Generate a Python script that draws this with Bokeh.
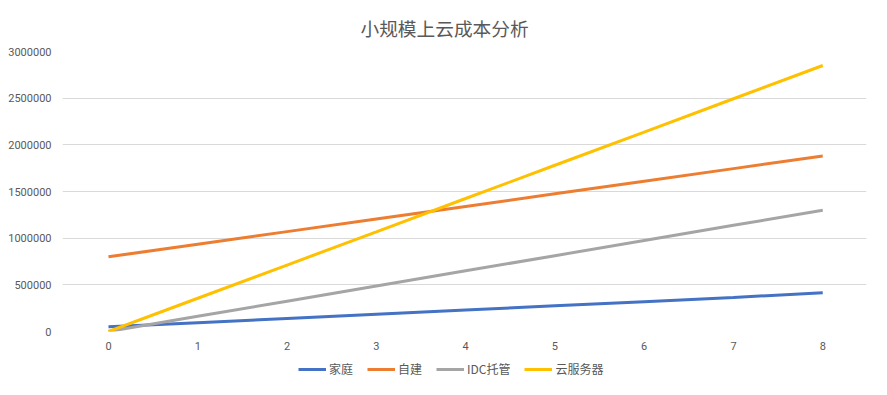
from bokeh.plotting import figure
from bokeh.layouts import column
from bokeh.models import ColumnDataSource, Legend, LegendItem, FixedTicker, Range1d, NumeralTickFormatter
from bokeh.embed import file_html
from bokeh.resources import INLINE

years = [0, 1, 2, 3, 4, 5, 6, 7, 8]
home = [50000, 95000, 140000, 185000, 230000, 275000, 320000, 365000, 415000]
self_built = [800000, 935000, 1070000, 1205000, 1340000, 1475000, 1610000, 1745000, 1880000]
idc = [0, 162500, 325000, 487500, 650000, 812500, 975000, 1137500, 1300000]
cloud = [0, 356000, 712000, 1068000, 1425000, 1781000, 2137000, 2494000, 2850000]

series_names = ["家庭", "自建", "IDC托管", "云服务器"]
series_values = [home, self_built, idc, cloud]
colors = ["#4472C4", "#ED7D31", "#A5A5A5", "#FFC000"]
y_ticks = [0, 500000, 1000000, 1500000, 2000000, 2500000, 3000000]

W = 871
p = figure(width=W, height=358, output_backend="svg", toolbar_location=None,
           x_range=Range1d(-0.515, 8.49), y_range=Range1d(0, 3000000),
           min_border_left=62, min_border_right=5, min_border_top=50, min_border_bottom=27)
p.outline_line_color = None
p.background_fill_color = "white"
p.border_fill_color = "white"

p.title.text = "小规模上云成本分析"
p.title.text_font = "Noto Sans CJK SC"
p.title.text_font_size = "18.7px"
p.title.text_font_style = "normal"
p.title.text_color = "#595959"
p.title.align = "left"
p.title.offset = 298
p.title.standoff = 22

for name, vals, c in zip(series_names, series_values, colors):
    src = ColumnDataSource(dict(x=years, y=vals))
    p.line("x", "y", source=src, line_color=c, line_width=3)

p.xaxis.ticker = FixedTicker(ticks=years)
p.yaxis.ticker = FixedTicker(ticks=y_ticks)
p.yaxis.formatter = NumeralTickFormatter(format="0")
for ax in (p.xaxis, p.yaxis):
    ax.axis_line_color = None
    ax.major_tick_line_color = None
    ax.minor_tick_line_color = None
    ax.major_tick_out = 0
    ax.major_tick_in = 0
    ax.minor_tick_out = 0
    ax.minor_tick_in = 0
    ax.major_label_text_font = "Roboto"
    ax.major_label_text_font_size = "11px"
    ax.major_label_text_color = "#595959"
p.xaxis.major_label_standoff = 10
p.yaxis.major_label_standoff = 11

p.xgrid.grid_line_color = None
p.ygrid.grid_line_color = "#D9D9D9"
p.ygrid.grid_line_width = 1

# legend strip below the chart (series drawn off-range so only legend glyphs show)
lg = figure(width=W, height=21, output_backend="svg", toolbar_location=None,
            x_range=Range1d(-0.515, 8.49), y_range=Range1d(-3, -2),
            x_axis_location=None, y_axis_location=None,
            min_border=0, min_border_left=0, min_border_right=0,
            min_border_top=0, min_border_bottom=0)
lg.outline_line_color = None
lg.grid.visible = False
items = []
for name, vals, c in zip(series_names, series_values, colors):
    src = ColumnDataSource(dict(x=years, y=vals))
    r = lg.line("x", "y", source=src, line_color=c, line_width=3)
    items.append(LegendItem(label=name, renderers=[r]))
legend = Legend(items=items, orientation="horizontal", location=(236, 2),
                label_text_font="Noto Sans CJK SC", label_text_font_size="12px",
                label_text_color="#595959", glyph_width=28, glyph_height=16,
                label_height=16, spacing=14, label_standoff=3, padding=0, margin=0,
                border_line_color=None, background_fill_alpha=0)
lg.add_layout(legend, "center")

layout = column(p, lg, spacing=0)
open("out.html", "w").write(file_html(layout, INLINE))
